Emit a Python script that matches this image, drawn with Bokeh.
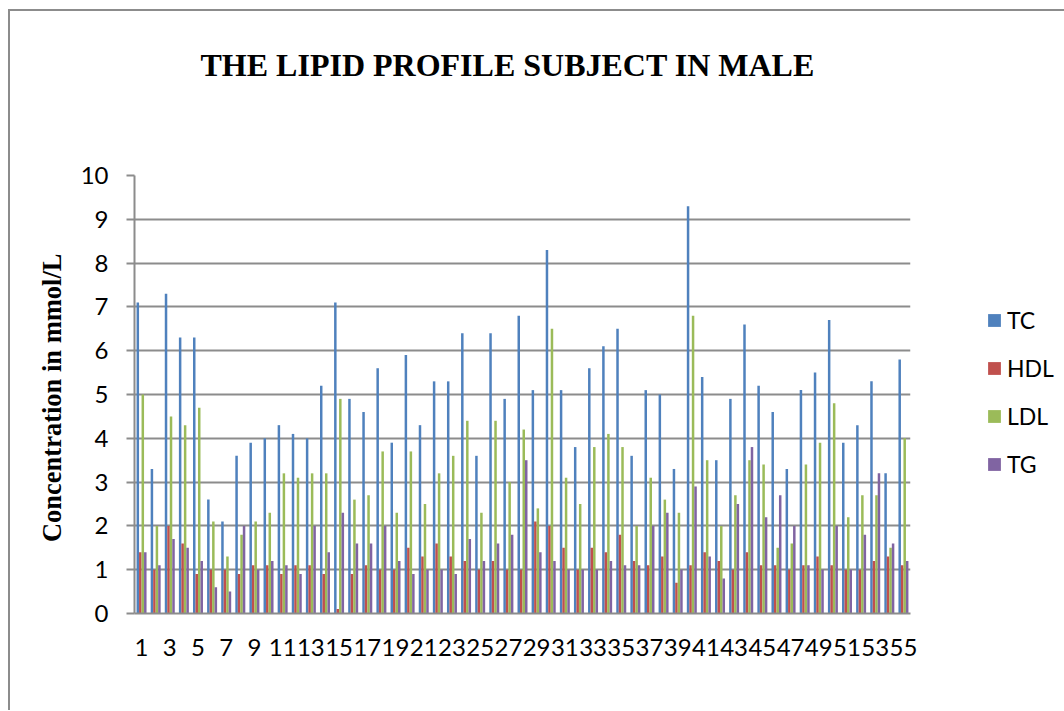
from bokeh.plotting import figure
from bokeh.layouts import row
from bokeh.models import Range1d, FixedTicker, Legend, LegendItem, ColumnDataSource, Title
from bokeh.transform import dodge
from bokeh.embed import file_html
from bokeh.resources import INLINE

subjects = list(range(1, 56))
x_tick_labels = list(range(1, 56, 2))
y_ticks = [0, 1, 2, 3, 4, 5, 6, 7, 8, 9, 10]

TC = [7.1, 3.3, 7.3, 6.3, 6.3, 2.6, 2.1, 3.6, 3.9, 4.0,
      4.3, 4.1, 4.0, 5.2, 7.1, 4.9, 4.6, 5.6, 3.9, 5.9,
      4.3, 5.3, 5.3, 6.4, 3.6, 6.4, 4.9, 6.8, 5.1, 8.3,
      5.1, 3.8, 5.6, 6.1, 6.5, 3.6, 5.1, 5.0, 3.3, 9.3,
      5.4, 3.5, 4.9, 6.6, 5.2, 4.6, 3.3, 5.1, 5.5, 6.7,
      3.9, 4.3, 5.3, 3.2, 5.8]
HDL = [1.4, 1.0, 2.0, 1.6, 0.9, 1.0, 1.0, 0.9, 1.1, 1.1,
       0.9, 1.1, 1.1, 0.9, 0.1, 0.9, 1.1, 1.0, 1.0, 1.5,
       1.3, 1.6, 1.3, 1.2, 1.0, 1.2, 1.0, 1.0, 2.1, 2.0,
       1.5, 1.0, 1.5, 1.4, 1.8, 1.2, 1.1, 1.3, 0.7, 1.1,
       1.4, 1.2, 1.0, 1.4, 1.1, 1.1, 1.0, 1.1, 1.3, 1.1,
       1.0, 1.0, 1.2, 1.3, 1.1]
LDL = [5.0, 2.0, 4.5, 4.3, 4.7, 2.1, 1.3, 1.8, 2.1, 2.3,
       3.2, 3.1, 3.2, 3.2, 4.9, 2.6, 2.7, 3.7, 2.3, 3.7,
       2.5, 3.2, 3.6, 4.4, 2.3, 4.4, 3.0, 4.2, 2.4, 6.5,
       3.1, 2.5, 3.8, 4.1, 3.8, 2.0, 3.1, 2.6, 2.3, 6.8,
       3.5, 2.0, 2.7, 3.5, 3.4, 1.5, 1.6, 3.4, 3.9, 4.8,
       2.2, 2.7, 2.7, 1.5, 4.0]
TG = [1.4, 1.1, 1.7, 1.5, 1.2, 0.6, 0.5, 2.0, 1.0, 1.2,
      1.1, 0.9, 2.0, 1.4, 2.3, 1.6, 1.6, 2.0, 1.2, 0.9,
      1.0, 1.0, 0.9, 1.7, 1.2, 1.6, 1.8, 3.5, 1.4, 1.2,
      1.0, 1.0, 1.0, 1.2, 1.1, 1.1, 2.0, 2.3, 1.0, 2.9,
      1.3, 0.8, 2.5, 3.8, 2.2, 2.7, 2.0, 1.1, 1.0, 2.0,
      1.0, 1.8, 3.2, 1.6, 1.2]

series_names = ["TC", "HDL", "LDL", "TG"]
colors = ["#4F81BD", "#C0504D", "#9BBB59", "#8064A2"]
title_text = "THE LIPID PROFILE SUBJECT IN MALE"

source = ColumnDataSource(dict(x=subjects, TC=TC, HDL=HDL, LDL=LDL, TG=TG))

p = figure(width=920, height=699, output_backend="svg", toolbar_location=None,
           x_range=Range1d(0.5, 55.5), y_range=Range1d(0, 10),
           min_border_left=124, min_border_right=20,
           min_border_top=164, min_border_bottom=97)

# spacer (nearest the frame) pushes the chart title upward
spacer = Title(text=" ", text_font="Liberation Serif", text_font_size="10px",
               standoff=75)
p.add_layout(spacer, "above")
main_title = Title(text=title_text, align="left", offset=66,
                   text_font="Liberation Serif", text_font_style="bold",
                   text_font_size="32px", text_color="black", standoff=10)
p.add_layout(main_title, "above")

bw = 0.177
offsets = [-1.5 * bw, -0.5 * bw, 0.5 * bw, 1.5 * bw]
for name, c, off in zip(series_names, colors, offsets):
    p.vbar(x=dodge("x", off, range=p.x_range), top=name, width=bw,
           source=source, fill_color=c, line_color=None)

p.xgrid.visible = False
p.ygrid.grid_line_color = "#8c8c8c"
p.ygrid.grid_line_width = 2
p.outline_line_color = None

p.yaxis.ticker = FixedTicker(ticks=y_ticks)
p.yaxis.axis_line_color = "#8c8c8c"
p.yaxis.axis_line_width = 2
p.yaxis.major_tick_line_color = "#8c8c8c"
p.yaxis.major_tick_line_width = 2
p.yaxis.major_tick_out = 8
p.yaxis.major_tick_in = 0
p.yaxis.minor_tick_line_color = None
p.yaxis.major_label_text_font = "Lato"
p.yaxis.major_label_text_font_size = "24px"
p.yaxis.major_label_text_color = "black"
p.yaxis.major_label_standoff = 18
p.yaxis.axis_label = "Concentration in  mmol/L"
p.yaxis.axis_label_text_font = "Liberation Serif"
p.yaxis.axis_label_text_font_style = "bold"
p.yaxis.axis_label_text_font_size = "26.5px"
p.yaxis.axis_label_text_color = "black"
p.yaxis.axis_label_standoff = 11

p.xaxis.ticker = FixedTicker(ticks=x_tick_labels)
p.xaxis.axis_line_color = "#8c8c8c"
p.xaxis.axis_line_width = 2
p.xaxis.major_tick_line_color = None
p.xaxis.major_tick_out = 0
p.xaxis.major_tick_in = 0
p.xaxis.minor_tick_line_color = None
p.xaxis.major_label_text_font = "Lato"
p.xaxis.major_label_text_font_size = "24px"
p.xaxis.major_label_text_color = "black"
p.xaxis.major_label_standoff = 25

# legend panel (separate canvas to the right of the plot area);
# its series renderers sit outside its visible range, only the legend shows
lf = figure(width=134, height=699, output_backend="svg", toolbar_location=None,
            x_axis_type=None, y_axis_type=None, min_border=0,
            x_range=Range1d(-3, -2), y_range=Range1d(0, 1))
lf.grid.visible = False
lf.outline_line_color = None
items = []
for name, c in zip(series_names, colors):
    r = lf.vbar(x="x", top=name, width=bw, source=source,
                fill_color=c, line_color=None)
    items.append(LegendItem(label=name, renderers=[r]))

legend = Legend(items=items, location=(56, 135))
legend.label_text_font = "Lato"
legend.label_text_font_size = "23px"
legend.label_text_color = "black"
legend.glyph_width = 16
legend.glyph_height = 16
legend.label_height = 16
legend.label_standoff = 5
legend.spacing = 20
legend.padding = 0
legend.margin = 0
legend.border_line_color = None
legend.background_fill_alpha = 0
lf.add_layout(legend, "center")

layout = row(p, lf, styles={"margin-left": "8px", "margin-top": "9px",
                            "border-left": "2px solid #8c8c8c",
                            "border-top": "2px solid #8c8c8c"})

open("out.html", "w").write(file_html(layout, INLINE))
